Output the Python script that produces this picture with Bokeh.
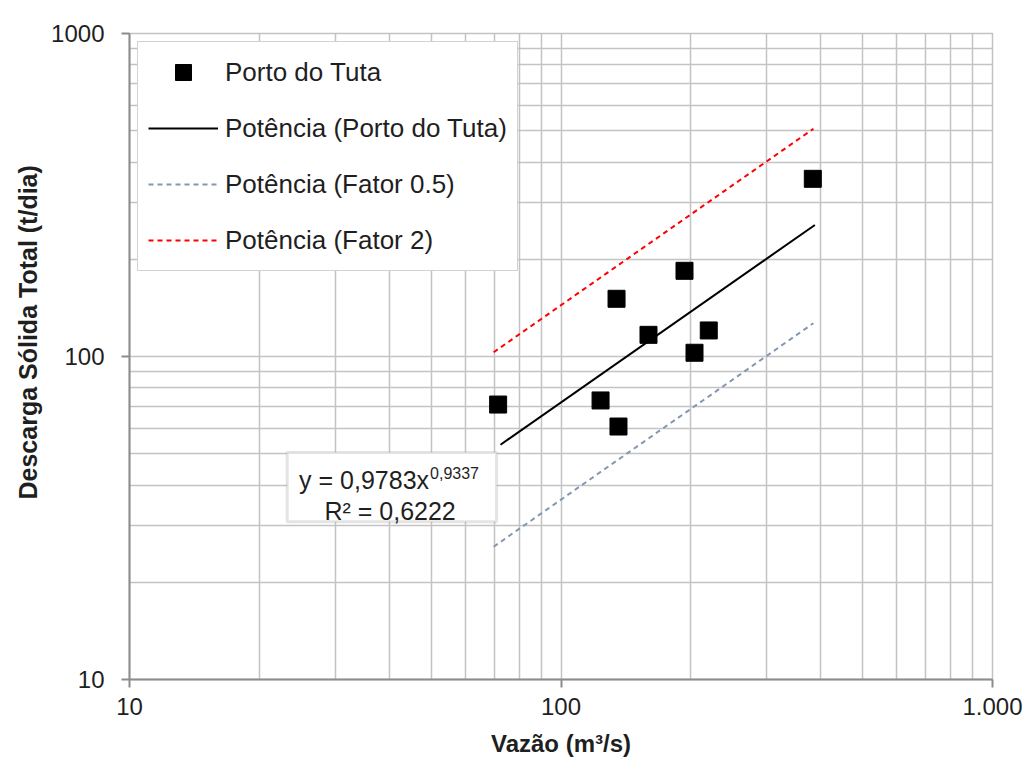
from bokeh.plotting import figure
from bokeh.models import (FixedTicker, CustomJSTickFormatter, Legend, LegendItem,
                          BoxAnnotation, Label, Title)
from bokeh.embed import file_html
from bokeh.resources import INLINE

# Measured discharge (m3/s) and total sediment load (t/dia) at Porto do Tuta
vazao = [71.5, 123.5, 134.5, 135.9, 159.5, 193.3, 203.9, 220.0, 383.3]
descarga = [71.0, 73.1, 150.9, 60.7, 116.7, 184.2, 102.7, 120.4, 354.9]

# Power-law fit y = a * x^b
coef = 0.9783
expoente = 0.9337
r2 = 0.6222

# x extent of the fitted curve and of the factor bands
trend_x = [72.4, 387.6]
fator_x = [69.8, 384.6]
fatores = [0.5, 2.0]

x_ticks = [10, 100, 1000]
y_ticks = [10, 100, 1000]

FONT = "Liberation Sans"
TXT = "#1f1f1f"
GRID = "#c3c3c3"
AXIS = "#8c8c8c"


def potencia(xs, fator=1.0):
    return [fator * coef * x ** expoente for x in xs]


p = figure(width=1026, height=761, x_axis_type="log", y_axis_type="log",
           x_range=(10, 1000), y_range=(10, 1000),
           output_backend="svg", toolbar_location=None, title=None,
           min_border_left=129, min_border_right=34,
           min_border_top=33, min_border_bottom=82)
p.background_fill_color = "white"
p.border_fill_color = "white"
p.outline_line_color = GRID
p.outline_line_width = 1.5

# grid lines at every 1..9 x 10^k
grid_vals = [m * 10 ** k for k in (1, 2) for m in range(1, 10)] + [1000]
p.xgrid.ticker = FixedTicker(ticks=grid_vals)
p.ygrid.ticker = FixedTicker(ticks=grid_vals)
for g in (p.xgrid, p.ygrid):
    g.grid_line_color = GRID
    g.grid_line_width = 1.5

p.xaxis.ticker = FixedTicker(ticks=x_ticks)
p.yaxis.ticker = FixedTicker(ticks=y_ticks)
p.xaxis.formatter = CustomJSTickFormatter(code="""
    const v = Math.round(tick);
    if (v >= 1000) { return Math.floor(v / 1000) + '.' + String(v % 1000).padStart(3, '0'); }
    return String(v);
""")
p.yaxis.formatter = CustomJSTickFormatter(code="return String(Math.round(tick));")

for ax in (p.xaxis, p.yaxis):
    ax.axis_line_color = AXIS
    ax.axis_line_width = 2
    ax.major_tick_line_color = AXIS
    ax.major_tick_line_width = 2
    ax.major_tick_in = 0
    ax.major_tick_out = 8
    ax.minor_tick_line_color = None
    ax.major_label_text_font = FONT
    ax.major_label_text_font_size = "24px"
    ax.major_label_text_color = TXT

p.xaxis.major_label_standoff = 10
p.yaxis.major_label_standoff = 17

p.xaxis.axis_label = "Vazão (m³/s)"
p.xaxis.axis_label_text_font = FONT
p.xaxis.axis_label_text_font_size = "24px"
p.xaxis.axis_label_text_font_style = "bold"
p.xaxis.axis_label_text_color = TXT
p.xaxis.axis_label_standoff = 12

ytitle = Title(text="Descarga  Sólida Total (t/dia)", align="left", offset=180,
               text_font=FONT, text_font_size="25px", text_font_style="bold",
               text_color=TXT, standoff=14)
p.add_layout(ytitle, "left")

# factor bands and fitted curve
r_meio = p.line(fator_x, potencia(fator_x, fatores[0]), line_color="#8497b0",
                line_width=2, line_dash="5 4")
r_dobro = p.line(fator_x, potencia(fator_x, fatores[1]), line_color="#ff0000",
                 line_width=2, line_dash="5 4")
r_fit = p.line(trend_x, potencia(trend_x), line_color="black", line_width=2)
r_pts = p.scatter(vazao, descarga, marker="square", size=17,
                  fill_color="black", line_color="black")

legend = Legend(items=[
    LegendItem(label="Porto do Tuta", renderers=[r_pts]),
    LegendItem(label="Potência (Porto do Tuta)", renderers=[r_fit]),
    LegendItem(label="Potência (Fator 0.5)", renderers=[r_meio]),
    LegendItem(label="Potência (Fator 2)", renderers=[r_dobro]),
], location="top_left", margin=8, padding=10, spacing=16,
    glyph_width=70, glyph_height=40, label_height=26, label_standoff=7,
    label_text_font=FONT, label_text_font_size="26px", label_text_color=TXT,
    border_line_color="#a6a6a6", border_line_width=1.5,
    background_fill_color="white", background_fill_alpha=1.0)
p.add_layout(legend)

# equation box
eq_box = BoxAnnotation(left=23.2, right=70.9, bottom=30.8, top=50.4,
                       fill_color="white", fill_alpha=1.0,
                       line_color="#a6a6a6", line_width=3)
p.add_layout(eq_box)

cx, cy = 40.6, 39.4
fmt = lambda v: f"{v:.4f}".replace(".", ",")
p.add_layout(Label(x=cx, y=cy, x_offset=37, y_offset=7, text=f"y = {fmt(coef)}x",
                   text_align="right", text_baseline="alphabetic",
                   text_font=FONT, text_font_size="25px", text_color=TXT))
p.add_layout(Label(x=cx, y=cy, x_offset=38, y_offset=14, text=fmt(expoente),
                   text_align="left", text_baseline="alphabetic",
                   text_font=FONT, text_font_size="16px", text_color=TXT))
p.add_layout(Label(x=cx, y=cy, x_offset=-2, y_offset=-24, text=f"R² = {fmt(r2)}",
                   text_align="center", text_baseline="alphabetic",
                   text_font=FONT, text_font_size="25px", text_color=TXT))

open("out.html", "w").write(file_html(p, INLINE))
